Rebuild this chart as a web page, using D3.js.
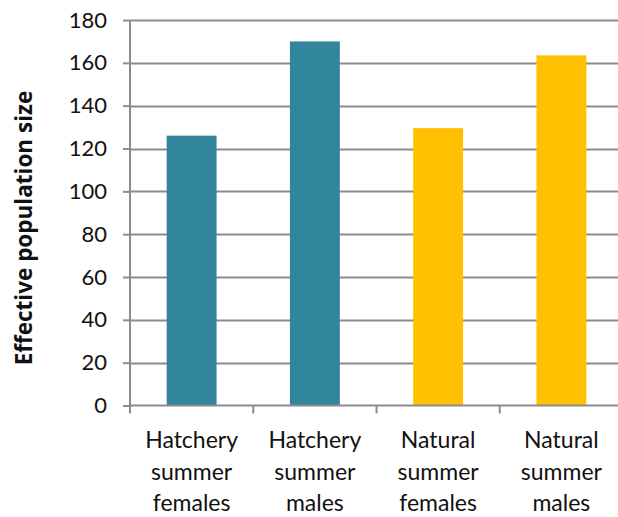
<!DOCTYPE html>
<html>
<head>
<meta charset="utf-8">
<script src="https://cdn.jsdelivr.net/npm/d3@7/dist/d3.min.js"></script>
<style>
  html, body { margin: 0; padding: 0; background: #fff; }
  svg { display: block; font-family: Lato, "Open Sans", sans-serif; }
</style>
</head>
<body>
<svg id="chart" width="618" height="517"></svg>
<script>
// Effective population size by group
const categories = [
  ["Hatchery", "summer", "females"],
  ["Hatchery", "summer", "males"],
  ["Natural", "summer", "females"],
  ["Natural", "summer", "males"]
];
const values = [126, 170, 129.5, 163.5];
const barColors = ["#31859C", "#31859C", "#FFC000", "#FFC000"];
const yTicks = [0, 20, 40, 60, 80, 100, 120, 140, 160, 180];
const yTitle = "Effective population size";

const svg = d3.select("#chart");
const margin = { left: 130, top: 20, right: 623, bottom: 405.5 };

const x = d3.scaleBand()
  .domain(d3.range(categories.length))
  .range([margin.left, margin.right])
  .paddingInner(0.595)
  .paddingOuter(0.2975);

const y = d3.scaleLinear()
  .domain([0, 180])
  .range([margin.bottom, margin.top]);

const gridColor = "#8c8c8c";

// horizontal gridlines
svg.append("g")
  .selectAll("line")
  .data(yTicks.filter(d => d > 0))
  .join("line")
  .attr("x1", margin.left)
  .attr("x2", 618)
  .attr("y1", d => Math.round(y(d)) + 0.5)
  .attr("y2", d => Math.round(y(d)) + 0.5)
  .attr("stroke", gridColor)
  .attr("stroke-width", 2);

// bars
svg.append("g")
  .selectAll("rect")
  .data(values)
  .join("rect")
  .attr("x", (d, i) => x(i))
  .attr("width", x.bandwidth())
  .attr("y", d => y(d))
  .attr("height", d => y(0) - y(d))
  .attr("fill", (d, i) => barColors[i]);

// y axis
const yAxis = svg.append("g")
  .attr("transform", `translate(${margin.left},0)`)
  .call(d3.axisLeft(y).tickValues(yTicks).tickSize(7).tickPadding(16).tickSizeOuter(0));
yAxis.select(".domain").remove();
yAxis.append("line")
  .attr("x1", 0).attr("x2", 0)
  .attr("y1", margin.top).attr("y2", margin.bottom + 8)
  .attr("stroke", gridColor).attr("stroke-width", 2);
yAxis.selectAll(".tick line").attr("stroke", gridColor).attr("stroke-width", 2);
yAxis.selectAll(".tick text")
  .attr("font-family", "Lato, sans-serif")
  .attr("font-size", 22)
  .attr("fill", "#111");

// x axis baseline with boundary ticks
const xg = svg.append("g");
xg.append("line")
  .attr("x1", margin.left).attr("x2", 618)
  .attr("y1", margin.bottom).attr("y2", margin.bottom)
  .attr("stroke", gridColor).attr("stroke-width", 2);
const step = x.step();
xg.selectAll("line.bound")
  .data(d3.range(1, categories.length))
  .join("line")
  .attr("class", "bound")
  .attr("x1", i => x(i) - step * x.paddingInner() / 2)
  .attr("x2", i => x(i) - step * x.paddingInner() / 2)
  .attr("y1", margin.bottom)
  .attr("y2", margin.bottom + 8)
  .attr("stroke", gridColor).attr("stroke-width", 2);

// category labels
const lab = svg.append("g")
  .selectAll("text")
  .data(categories)
  .join("text")
  .attr("text-anchor", "middle")
  .attr("font-size", 23)
  .attr("fill", "#111")
  .attr("x", (d, i) => x(i) + x.bandwidth() / 2)
  .attr("y", 448);
lab.selectAll("tspan")
  .data(d => d)
  .join("tspan")
  .attr("x", function () { return d3.select(this.parentNode).attr("x"); })
  .attr("dy", (d, i) => i === 0 ? 0 : 31.5)
  .text(d => d);

// y axis title
svg.append("text")
  .attr("transform", "translate(32,228) rotate(-90)")
  .attr("text-anchor", "middle")
  .attr("font-family", "'Open Sans', sans-serif")
  .attr("font-size", 22.5)
  .attr("font-weight", "bold")
  .attr("fill", "#111")
  .text(yTitle);
</script>
</body>
</html>
